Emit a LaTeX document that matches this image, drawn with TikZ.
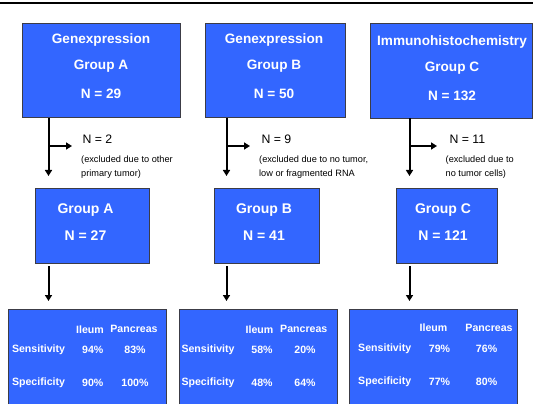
\documentclass[tikz,border=0pt]{standalone}
\usepackage{fontspec}
\setmainfont{Liberation Sans}
\usetikzlibrary{arrows.meta}
\definecolor{boxblue}{RGB}{51,102,255}
\definecolor{edgegray}{RGB}{60,60,70}
\begin{document}
\begin{tikzpicture}[x=1pt,y=-1pt,
  bluebox/.style={draw=edgegray,line width=0.8pt,fill=boxblue},
  toptxt/.style={text=white,font=\fontsize{13.6}{15}\selectfont\bfseries,anchor=center},
  midtxt/.style={text=white,font=\fontsize{14}{16}\selectfont\bfseries,anchor=center},
  tabtxt/.style={text=white,font=\fontsize{10.6}{12}\selectfont\bfseries,anchor=center},
  tabrow/.style={text=white,font=\fontsize{10.6}{12}\selectfont\bfseries,anchor=west},
  ntxt/.style={font=\fontsize{12.3}{14}\selectfont,anchor=west},
  extxt/.style={font=\fontsize{9.2}{14.6}\selectfont,anchor=north west,align=left,inner sep=0pt},
  flow/.style={line width=2pt,-{Triangle[length=6pt,width=7pt]}}]
\useasboundingbox (0,0) rectangle (559,414);
\fill[black] (0,2.5) rectangle (533,4.5);
% top boxes
\node[bluebox,minimum width=158pt,minimum height=94pt,inner sep=0pt] (tA) at (101,70) {};
\node[bluebox,minimum width=140pt,minimum height=94pt,inner sep=0pt] (tB) at (275,70) {};
\node[bluebox,minimum width=162pt,minimum height=95pt,inner sep=0pt] (tC) at (451.5,70.5) {};
\node[toptxt] (tA1) at (101,39.5) {Genexpression};
\node[toptxt] (tA2) at (101,66) {Group A};
\node[toptxt] (tA3) at (101,94) {N = 29};
\node[toptxt] (tB1) at (274,39.5) {Genexpression};
\node[toptxt] (tB2) at (274,66) {Group B};
\node[toptxt] (tB3) at (274,94) {N = 50};
\node[toptxt] (tC1) at (452,42) {Immunohistochemistry};
\node[toptxt] (tC2) at (452,68) {Group C};
\node[toptxt] (tC3) at (452,96) {N = 132};
% middle boxes
\node[bluebox,minimum width=114pt,minimum height=75pt,inner sep=0pt] (mA) at (92,225.7) {};
\node[bluebox,minimum width=105pt,minimum height=75pt,inner sep=0pt] (mB) at (266.5,225.7) {};
\node[bluebox,minimum width=101pt,minimum height=75pt,inner sep=0pt] (mC) at (447,225.7) {};
\node[midtxt] (mA1) at (85.5,209.6) {Group A};
\node[midtxt] (mA2) at (85.5,236) {N = 27};
\node[midtxt] (mB1) at (264,209.6) {Group B};
\node[midtxt] (mB2) at (264,236) {N = 41};
\node[midtxt] (mC1) at (443,209.6) {Group C};
\node[midtxt] (mC2) at (443,236) {N = 121};
% exclusion arrows
\coordinate (sA) at (48.5,118); \coordinate (eA) at (48.5,176);
\coordinate (bA) at (48.5,146); \coordinate (rA) at (72,146);
\coordinate (sB) at (226.5,118); \coordinate (eB) at (226.5,176);
\coordinate (bB) at (226.5,146); \coordinate (rB) at (250,146);
\coordinate (sC) at (409.5,118); \coordinate (eC) at (409.5,176);
\coordinate (bC) at (409.5,146); \coordinate (rC) at (437,146);
\foreach \g in {A,B,C}{
  \draw[flow] (s\g) -- (e\g);
  \draw[flow] (b\g) -- (r\g);
}
\node[ntxt] (nA) at (79,139) {N = 2};
\node[ntxt] (nB) at (258,139) {N = 9};
\node[ntxt] (nC) at (446,139) {N = 11};
\node[extxt] (xA) at (81,155.5) {(excluded due to other\\primary tumor)};
\node[extxt] (xB) at (259,155.5) {(excluded due to no tumor,\\low or fragmented RNA};
\node[extxt] (xC) at (445.5,155.5) {(excluded due to\\no tumor cells)};
% arrows to bottom
\coordinate (dA1) at (48.5,266); \coordinate (dA2) at (48.5,301);
\coordinate (dB1) at (226.5,266); \coordinate (dB2) at (226.5,301);
\coordinate (dC1) at (409.5,266); \coordinate (dC2) at (409.5,301);
\foreach \g in {A,B,C}{\draw[flow] (d\g1) -- (d\g2);}
% bottom boxes
\fill[boxblue] (8.5,309.7) rectangle (166.7,404);
\draw[edgegray,line width=0.8pt] (8.5,404) -- (8.5,309.7) -- (166.7,309.7) -- (166.7,404);
\fill[boxblue] (179,309.7) rectangle (337,404);
\draw[edgegray,line width=0.8pt] (179,404) -- (179,309.7) -- (337,309.7) -- (337,404);
\fill[boxblue] (349,309.7) rectangle (517,404);
\draw[edgegray,line width=0.8pt] (349,404) -- (349,309.7) -- (517,309.7) -- (517,404);
% table A
\node[tabtxt] (aI) at (90,329.4) {Ileum};
\node[tabtxt] (aP) at (134,329.4) {Pancreas};
\node[tabrow] (aS) at (8.5,350) {Sensitivity};
\node[tabtxt] (aS1) at (92.8,350) {94\%};
\node[tabtxt] (aS2) at (135,350) {83\%};
\node[tabrow] (aF) at (8.5,382.8) {Specificity};
\node[tabtxt] (aF1) at (92.8,382.8) {90\%};
\node[tabtxt] (aF2) at (135,382.8) {100\%};
% table B
\node[tabtxt] (tbI) at (259.5,329.4) {Ileum};
\node[tabtxt] (tbP) at (303.8,329.4) {Pancreas};
\node[tabrow] (tbS) at (178,350) {Sensitivity};
\node[tabtxt] (tbS1) at (262,350) {58\%};
\node[tabtxt] (tbS2) at (305,350) {20\%};
\node[tabrow] (tbF) at (178,382.8) {Specificity};
\node[tabtxt] (tbF1) at (262,382.8) {48\%};
\node[tabtxt] (tbF2) at (305,382.8) {64\%};
% table C
\node[tabtxt] (cI) at (433.5,327.6) {Ileum};
\node[tabtxt] (cP) at (489,327.6) {Pancreas};
\node[tabrow] (cS) at (354.7,349) {Sensitivity};
\node[tabtxt] (cS1) at (439.5,349) {79\%};
\node[tabtxt] (cS2) at (486.6,349) {76\%};
\node[tabrow] (cF) at (354.7,382) {Specificity};
\node[tabtxt] (cF1) at (439.5,382) {77\%};
\node[tabtxt] (cF2) at (486.6,382) {80\%};
\end{tikzpicture}
\end{document}
